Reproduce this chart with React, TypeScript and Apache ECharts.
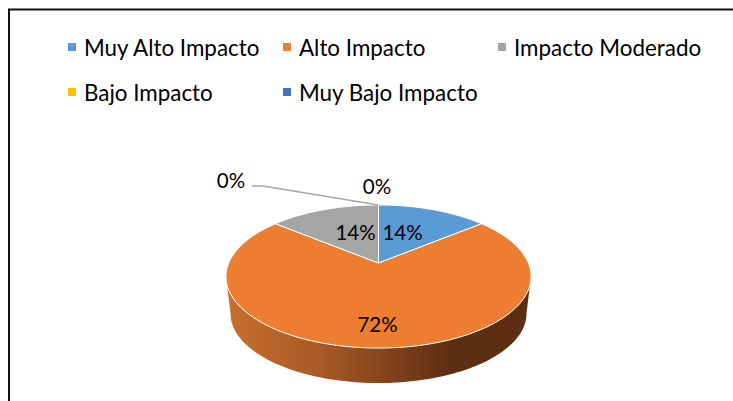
import React, { useEffect, useRef } from "react";
import * as echarts from "echarts";

const categories = ["Muy Alto Impacto", "Alto Impacto", "Impacto Moderado", "Bajo Impacto", "Muy Bajo Impacto"];
const values = [14, 72, 14, 0, 0];
const colors = ["#5b9bd5", "#ed7d31", "#a5a5a5", "#ffc000", "#4472c4"];
const legendSpots = [[68, 33], [283, 33], [498, 33], [68, 78], [283, 78]];
const labelSpots = [[402.5, 232], [377.5, 324], [355.5, 232], [231, 180], [377, 186]];
const leaderLine = [[252, 186], [263, 186], [378.5, 205]];

const FONT = "Lato";
const CX = 378.5;
const CY = 263;
const A = 149.8;
const B = 69;
const K = 0.189;
const DEPTH = 37.5;
const SHRINK = 0.97;
const total = values.reduce((a, b) => a + b, 0);

// Perspective projection of a point on the unit disc (angle clockwise from the top).
function project(deg: number, r: number, shift: number, scale: number) {
  const t = (deg * Math.PI) / 180;
  const x = r * Math.sin(t);
  const y = r * Math.cos(t);
  const d = 1 + K * y;
  return [CX + (scale * A * x) / d, CY + shift - (scale * B * y) / d];
}

function arc(from: number, to: number, shift: number, scale: number) {
  const pts: number[][] = [];
  const n = Math.max(2, Math.ceil(Math.abs(to - from) / 1.5));
  for (let i = 0; i <= n; i++) pts.push(project(from + ((to - from) * i) / n, 1, shift, scale));
  return pts;
}

const silhouette = (Math.acos(-K) * 180) / Math.PI;

function sliceChildren(i: number, value: number) {
  const before = values.slice(0, i).reduce((a, b) => a + b, 0);
  const start = (before / total) * 360;
  const end = ((before + value) / total) * 360;
  const children: any[] = [];
  if (value > 0) {
    const wallFrom = Math.max(start, silhouette);
    const wallTo = Math.min(end, 360 - silhouette);
    if (wallTo > wallFrom) {
      const wall = [...arc(wallFrom, wallTo, 0, 1), ...arc(wallFrom, wallTo, DEPTH, SHRINK).reverse()];
      children.push({
        type: "polygon",
        shape: { points: wall },
        style: {
          fill: new echarts.graphic.LinearGradient(0, 0, 1, 0, [
            { offset: 0, color: "#c8702f" },
            { offset: 0.3, color: "#a95a26" },
            { offset: 0.74, color: "#5e2e12" },
            { offset: 1, color: "#5e2e12" },
          ]),
        },
      });
    }
    children.push({
      type: "polygon",
      shape: { points: [project(0, 0, 0, 1), ...arc(start, end, 0, 1)] },
      style: { fill: colors[i], stroke: "#ffffff", lineWidth: 1 },
    });
  } else if (i === 3) {
    children.push({
      type: "polyline",
      shape: { points: leaderLine },
      style: { fill: "none", stroke: "#a6a6a6", lineWidth: 1.3 },
    });
  }
  children.push({
    type: "text",
    x: labelSpots[i][0],
    y: labelSpots[i][1],
    z2: 10,
    style: {
      text: `${value}%`,
      fill: "#000000",
      font: `20.5px ${FONT}`,
      align: "center",
      verticalAlign: "middle",
    },
  });
  return children;
}

export default function App() {
  const ref = useRef<HTMLDivElement>(null);
  useEffect(() => {
    document.body.style.margin = "0";
    const chart = echarts.init(ref.current!, undefined, { renderer: "svg" });
    chart.setOption({
      animation: false,
      backgroundColor: "#ffffff",
      legend: categories.map((name, i) => ({
        data: [name],
        left: legendSpots[i][0],
        top: legendSpots[i][1],
        padding: 0,
        itemWidth: 8,
        itemHeight: 8,
        icon: "rect",
        selectedMode: false,
        textStyle: { fontFamily: FONT, fontSize: 22.4, color: "#000000", lineHeight: 28, padding: [0, 0, 0, 3] },
      })),
      graphic: [
        {
          type: "polyline",
          silent: true,
          shape: { points: [[9, 401], [9, 9.5], [733, 9.5]] },
          style: { fill: "none", stroke: "#111111", lineWidth: 2 },
        },
      ],
      series: categories.map((name, i) => ({
        type: "custom",
        name,
        coordinateSystem: "none",
        silent: true,
        itemStyle: { color: colors[i] },
        data: [[values[i]]],
        renderItem: (_p: any, api: any) => ({ type: "group", children: sliceChildren(i, api.value(0)) }),
      })),
    });
    return () => chart.dispose();
  }, []);
  return <div ref={ref} style={{ width: 733, height: 401 }} />;
}
